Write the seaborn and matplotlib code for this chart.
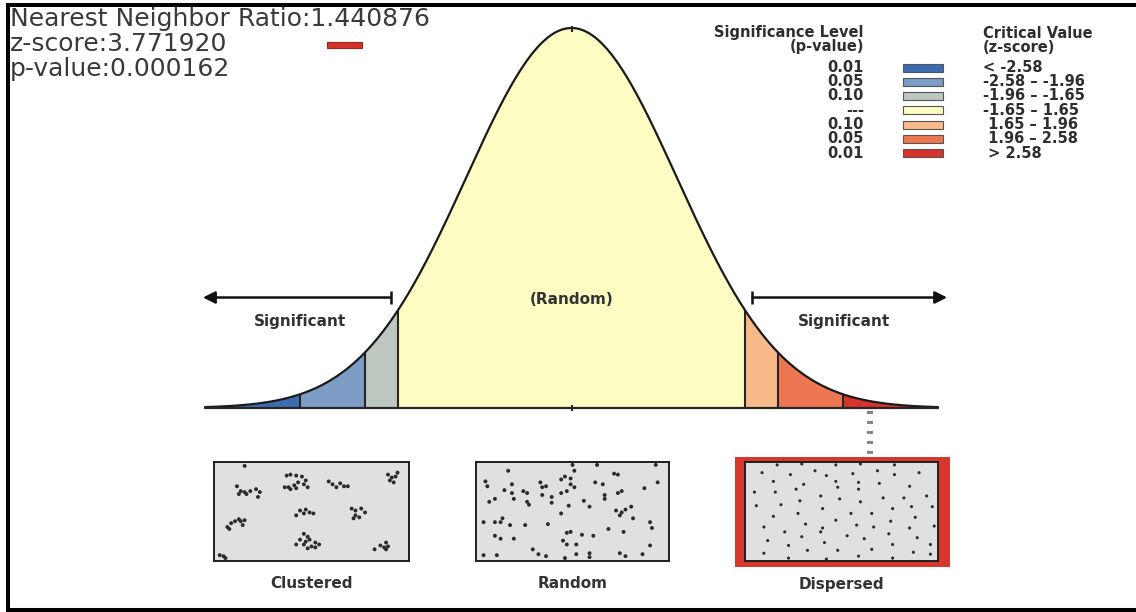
import numpy as np
import pandas as pd
import matplotlib
matplotlib.use("Agg")
import matplotlib.pyplot as plt
from matplotlib.patches import Rectangle
import seaborn as sns

# summary values shown in the top-left corner
nn_ratio = 1.440876
z_score = 3.771920
p_value = 0.000162

# significance classes, left tail to right tail
class_bounds = [-3.48, -2.58, -1.96, -1.65, 1.65, 1.96, 2.58, 3.48]
class_colors = ["#3c6db2", "#7d9cc6", "#bdc7bf", "#fdfcc2", "#f8b98b", "#ec7751", "#d8322b"]
p_labels = ["0.01", "0.05", "0.10", "---", "0.10", "0.05", "0.01"]
z_labels = ["< -2.58", "-2.58 \u2013 -1.96", "-1.96 \u2013 -1.65", "-1.65 \u2013 1.65",
            " 1.65 \u2013 1.96", " 1.96 \u2013 2.58", " > 2.58"]

# point patterns inside the three example boxes (box units, 0-100, y down)
clustered_x = [15, 37, 39, 42, 45, 47, 43, 41, 38, 36, 39, 42, 48, 46,
               11, 13, 15, 16, 18, 21, 23, 22, 12,
               59, 61, 63, 65, 67, 69,
               90, 92, 94, 93, 95, 91,
               42, 44, 47, 46, 49, 51,
               71, 73, 76, 78, 73, 75, 72,
               6, 8, 10, 12, 13, 14, 7, 15,
               46, 48, 44, 47, 49, 52, 54, 50, 52, 42, 46, 48,
               83, 86, 89, 90, 88, 89,
               2, 4, 5]
clustered_y = [3, 13, 12, 13, 14, 18, 20, 23, 25, 25, 27, 26, 25, 22,
               24, 29, 30, 32, 29, 27, 30, 35, 32,
               19, 22, 25, 21, 24, 24,
               12, 15, 14, 20, 10, 18,
               54, 49, 48, 52, 51, 52,
               47, 49, 47, 51, 54, 56, 57,
               66, 62, 60, 58, 60, 64, 68, 59,
               73, 76, 79, 81, 79, 82, 84, 86, 87, 84, 84, 88,
               89, 85, 82, 86, 87, 89,
               95, 96, 98]

random_x = [16, 4, 5, 18, 14, 18, 33, 36, 34, 44, 46, 49, 49, 51, 47, 44, 24, 26, 34, 39,
            39, 19, 9, 6, 26, 27, 44, 48, 59, 56, 62, 66, 67, 67, 72, 74, 74, 76, 88, 95,
            94, 63, 50, 51, 73, 76, 78, 81, 75, 82, 91, 92, 69, 77, 61, 55, 47, 49, 45, 47,
            52, 29, 32, 36, 19, 12, 9, 3, 9, 12, 13, 17, 25, 37, 91, 75, 78, 59, 59, 46,
            52, 3, 10, 87]
random_y = [8, 19, 24, 22, 28, 31, 20, 24, 25, 17, 14, 16, 22, 25, 29, 31, 29, 31, 33, 35,
            41, 37, 37, 40, 40, 43, 52, 44, 45, 39, 20, 22, 33, 37, 11, 12, 31, 29, 26, 20,
            2, 2, 2, 8, 49, 51, 48, 45, 54, 57, 61, 67, 68, 71, 75, 74, 72, 71, 80, 84,
            84, 89, 94, 96, 78, 78, 75, 61, 61, 61, 57, 64, 64, 63, 85, 93, 96, 93, 97, 98,
            94, 95, 95, 94]

dispersed_x = [16, 29, 47, 60, 78, 8, 23, 36, 42, 56, 69, 78, 91, 14, 30, 47, 59, 70, 86,
               4, 15, 26, 39, 48, 59, 72, 83, 95, 5, 18, 28, 40, 49, 60, 77, 87, 98,
               14, 27, 47, 55, 66, 76, 89, 9, 31, 40, 58, 67, 86, 99, 20, 39, 53, 75, 90,
               11, 29, 41, 62, 77, 97, 22, 32, 48, 66, 88, 9, 22, 42, 59, 77, 97]
dispersed_y = [2, 1, 2, 1, 2, 10, 12, 8, 13, 11, 8, 12, 10, 19, 22, 19, 20, 21, 24,
               30, 30, 27, 34, 25, 27, 36, 36, 34, 44, 43, 39, 47, 37, 40, 47, 45, 45,
               55, 52, 59, 52, 52, 60, 56, 66, 63, 67, 64, 66, 67, 65, 71, 71, 75, 73, 77,
               80, 76, 82, 78, 84, 84, 85, 90, 90, 89, 92, 93, 98, 99, 96, 98, 94]

W, H = 1136, 612


def normal_pdf(z):
    return np.exp(-0.5 * np.asarray(z) ** 2) / np.sqrt(2 * np.pi)


sns.set_theme(style="white")
plt.rcParams["font.family"] = ["DejaVu Sans"]

fig = plt.figure(figsize=(W / 100, H / 100), dpi=100)
fig.patch.set_facecolor("white")


def px_axes(x0, y0, x1, y1):
    # pixel box with top-left origin -> figure axes
    return fig.add_axes([x0 / W, 1 - y1 / H, (x1 - x0) / W, (y1 - y0) / H])


# background layer: frame, summary text, legend, pointer
bg = px_axes(0, 0, W, H)
bg.set_xlim(0, W)
bg.set_ylim(H, 0)
bg.axis("off")

bg.plot([8, 8], [3, H], color="black", lw=2.9, solid_capstyle="butt")
bg.plot([6, W], [5, 5], color="black", lw=2.9, solid_capstyle="butt")
bg.plot([6, W], [610, 610], color="black", lw=2.9, solid_capstyle="butt")

txt_color = "#3a3a3a"
bg.text(10, 26, f"Nearest Neighbor Ratio:{nn_ratio:.6f}", fontsize=18, color=txt_color, va="baseline")
bg.text(10, 51, f"z-score:{z_score:.6f}", fontsize=18, color=txt_color, va="baseline")
bg.text(10, 76, f"p-value:{p_value:.6f}", fontsize=18, color=txt_color, va="baseline")
bg.add_patch(Rectangle((327, 42), 35, 6, facecolor=class_colors[-1], edgecolor="#9e2420", lw=0.8))

# legend
leg_color = "#2e2e2e"
leg = dict(va="center", fontsize=10.5, weight="bold", color=leg_color)
bg.text(864, 33, "Significance Level", ha="right", **leg)
bg.text(864, 47, "(p-value)", ha="right", **leg)
bg.text(983, 33, "Critical Value", ha="left", **leg)
bg.text(983, 47, "(z-score)", ha="left", **leg)
for i, (pl, zl, col) in enumerate(zip(p_labels, z_labels, class_colors)):
    yy = 67.5 + 14.25 * i
    bg.text(864, yy, pl, ha="right", **leg)
    bg.add_patch(Rectangle((903, yy - 4), 40, 8, facecolor=col, edgecolor="#555555", lw=0.8))
    bg.text(983, yy, zl, ha="left", **leg)

# red frame around the matching pattern and the dotted pointer to it
bg.add_patch(Rectangle((735, 457), 215, 110, facecolor="#d8372e", edgecolor="none"))
bg.plot([870, 870], [411, 454], color="#8d7c88", lw=4.3, dashes=(0.5, 1.17))

# normal curve
ax = px_axes(205, 28, 938, 408)
z = np.linspace(class_bounds[0], class_bounds[-1], 800)
curve = pd.DataFrame({"z": z, "density": normal_pdf(z)})
for lo, hi, col in zip(class_bounds[:-1], class_bounds[1:], class_colors):
    zz = np.linspace(lo, hi, 200)
    ax.fill_between(zz, 0, normal_pdf(zz), color=col, lw=0)
ax.vlines(class_bounds[1:-1], 0, normal_pdf(class_bounds[1:-1]), color="#262626", lw=1.5)
sns.lineplot(data=curve, x="z", y="density", color="#1a1a1a", lw=1.6, ax=ax)
ax.lines[-1].set_clip_on(False)
ax.axhline(0, color="#262626", lw=1.6, clip_on=False)
ax.vlines(0, -0.003, 0.003, color="#262626", lw=1.5, clip_on=False)
ax.vlines(0, normal_pdf(0) - 0.004, normal_pdf(0) + 0.002, color="#262626", lw=1.5, clip_on=False)
ax.set_xlim(class_bounds[0], class_bounds[-1])
ax.set_ylim(0, normal_pdf(0))
ax.axis("off")

arrow_y = 0.116
for start, end in [(-1.717, -3.50), (1.717, 3.567)]:
    ax.annotate("", xy=(end, arrow_y), xytext=(start, arrow_y), annotation_clip=False,
                arrowprops=dict(arrowstyle="-|>", color="#111111", lw=1.8,
                                mutation_scale=18, shrinkA=0, shrinkB=0))
    ax.vlines(start, arrow_y - 0.007, arrow_y + 0.007, color="#111111", lw=1.8, clip_on=False)

lab = dict(ha="center", va="center", fontsize=11, weight="bold", color="#333333")
ax.text(-2.58, 0.0903, "Significant", **lab)
ax.text(2.59, 0.0903, "Significant", **lab)
ax.text(0, 0.1134, "(Random)", **lab)

# example point patterns
patterns = [
    ("Clustered", 214, 409, clustered_x, clustered_y, 8),
    ("Random", 476, 669, random_x, random_y, 8),
    ("Dispersed", 745, 938, dispersed_x, dispersed_y, 5),
]
for name, x0, x1, xs, ys, size in patterns:
    b = px_axes(x0, 462, x1, 561)
    b.set_facecolor("#e0e0e0")
    sns.scatterplot(x=xs, y=ys, s=size, color="#2b2b2b", edgecolor="none", ax=b)
    b.set_xlim(-1, 101)
    b.set_ylim(101, -1)
    b.set_xticks([])
    b.set_yticks([])
    b.set_xlabel("")
    b.set_ylabel("")
    for sp in b.spines.values():
        sp.set_visible(True)
        sp.set_color("#1e1e1e")
        sp.set_linewidth(1.4)
    bg.text((x0 + x1) / 2, 584, name, **lab)

fig.savefig("out.png", dpi=100)
